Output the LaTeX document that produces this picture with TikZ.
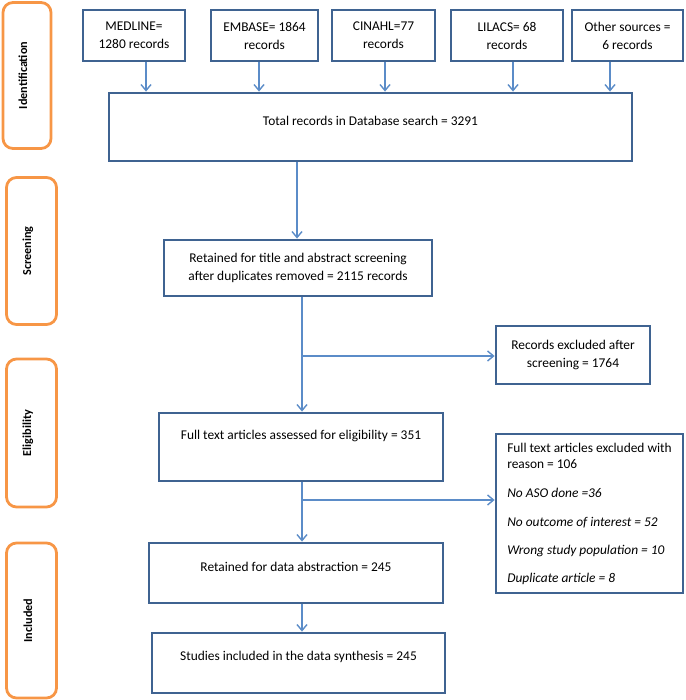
\documentclass[tikz,border=0pt]{standalone}
\usepackage{fontspec}
\setmainfont{Carlito}
\usetikzlibrary{arrows.meta,calc}
\definecolor{boxblue}{HTML}{3F6391}
\definecolor{arrblue}{HTML}{5B8CC8}
\definecolor{phaseorange}{HTML}{F79646}
\tikzset{
  box/.style={draw=boxblue, line width=2.8pt, rectangle, inner sep=0pt, align=center,
    font=\fontsize{13.4}{18}\selectfont},
  txt/.style={inner sep=0pt, align=center, font=\fontsize{13.4}{18}\selectfont},
  phase/.style={draw=phaseorange, line width=2.8pt, rounded corners=10pt, rectangle, inner sep=0pt},
  phasetxt/.style={inner sep=0pt, rotate=90, font=\bfseries\fontsize{12.2}{14}\selectfont},
  arr/.style={draw=arrblue, line width=1.4pt, -{Straight Barb[length=6pt,width=10pt,line width=1.4pt]}},
  ln/.style={draw=arrblue, line width=1.4pt}
}
\begin{document}
\begin{tikzpicture}[x=1pt,y=-1pt]
\useasboundingbox (0,0) rectangle (685,700);
% phase boxes
\node[phase, minimum width=48, minimum height=146] (pid) at (27,75.5) {};
\node[phasetxt] at (23,75.5) {Identification};
\node[phase, minimum width=50, minimum height=147] (psc) at (31.5,251) {};
\node[phasetxt] at (28,251) {Screening};
\node[phase, minimum width=50, minimum height=148] (pel) at (31.5,433) {};
\node[phasetxt] at (28,433) {Eligibility};
\node[phase, minimum width=50, minimum height=155] (pin) at (31.5,620.5) {};
\node[phasetxt] at (28,620.5) {Included};
% top source boxes
\node[box, minimum width=102, minimum height=51] (med) at (134,35.5) {MEDLINE=\\1280 records};
\node[box, minimum width=107, minimum height=51] (emb) at (264.5,35.5) {EMBASE= 1864\\records};
\node[box, minimum width=103, minimum height=51] (cin) at (383.5,35.5) {CINAHL=77\\records};
\node[box, minimum width=112, minimum height=51] (lil) at (507,35.5) {LILACS= 68\\records};
\node[box, minimum width=111, minimum height=51] (oth) at (627.5,35.5) {Other sources =\\6 records};
% total
\node[box, minimum width=523, minimum height=68] (tot) at (370.5,127) {};
\node[txt] at ([yshift=6]tot.center) {Total records in Database search = 3291};
% arrows from sources
\draw[arr] (med.south -| 146,0) -- (tot.north -| 146,0);
\draw[arr] (emb.south -| 259,0) -- (tot.north -| 259,0);
\draw[arr] (cin.south -| 385,0) -- (tot.north -| 385,0);
\draw[arr] (lil.south -| 513,0) -- (tot.north -| 513,0);
\draw[arr] (oth.south -| 610,0) -- (tot.north -| 610,0);
% screening
\node[box, minimum width=268, minimum height=56] (ret) at (298,268) {Retained for title and abstract screening\\after duplicates removed = 2115 records};
\draw[arr] (tot.south -| 297,0) -- (ret.north -| 297,0);
\node[box, minimum width=154, minimum height=58] (exc) at (573,355) {Records excluded after\\screening = 1764};
% eligibility
\node[box, minimum width=284, minimum height=68] (ful) at (301,447) {};
\node[txt] at ([yshift=11]ful.center) {Full text articles assessed for eligibility = 351};
\coordinate (j1) at (302,356);
\draw[arr] (ret.south -| j1) -- (ful.north -| j1);
\draw[arr] (j1) -- (exc.west |- j1);
\node[box, minimum width=187, minimum height=159, align=left,
  font=\fontsize{13.4}{16}\selectfont] (fex) at (589.5,513.5)
  {Full text articles excluded with\\reason = 106\\[13pt]
   \textit{No ASO done =36}\\[13pt]
   \textit{No outcome of interest = 52}\\[12pt]
   \textit{Wrong study population = 10}\\[12pt]
   \textit{Duplicate article = 8}};
% included
\node[box, minimum width=294, minimum height=60] (rda) at (296,573) {};
\node[txt] at ([yshift=6]rda.center) {Retained for data abstraction = 245};
\coordinate (j2) at (302,500);
\draw[arr] (ful.south -| j2) -- (rda.north -| j2);
\draw[arr] (j2) -- (fex.west |- j2);
\node[box, minimum width=293, minimum height=60] (stu) at (298.5,663) {};
\node[txt] at ([yshift=6]stu.center) {Studies included in the data synthesis = 245};
\draw[arr] (rda.south -| 302,0) -- (stu.north -| 302,0);
\end{tikzpicture}
\end{document}
